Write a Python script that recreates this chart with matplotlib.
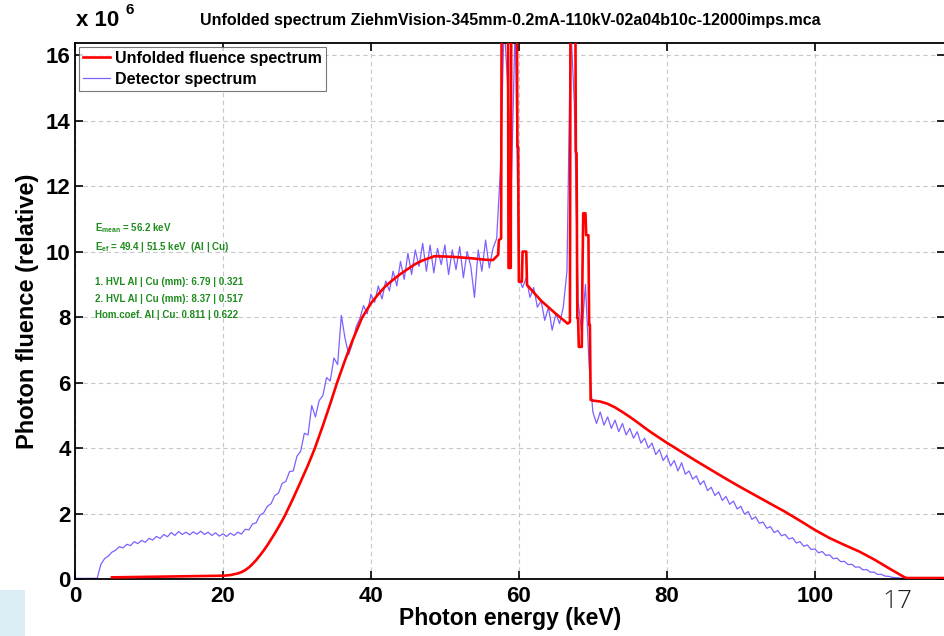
import numpy as np
import matplotlib
matplotlib.use('Agg')
import matplotlib.pyplot as plt
from matplotlib.patches import Rectangle

plt.rcParams['font.family'] = ['Liberation Sans', 'DejaVu Sans']
plt.rcParams['mathtext.fontset'] = 'custom'
plt.rcParams['mathtext.rm'] = 'Liberation Sans:bold'
plt.rcParams['mathtext.default'] = 'rm'

# detector spectrum, one value every 0.5 keV starting at 0 keV (units of 1e6)
det_values = [
    0.02, 0.02, 0.02, 0.02, 0.02, 0.02, 0.02, 0.45, 0.62, 0.70,
    0.82, 0.88, 0.99, 0.95, 1.06, 1.02, 1.14, 1.08, 1.18, 1.12,
    1.24, 1.19, 1.30, 1.24, 1.36, 1.29, 1.42, 1.33, 1.45, 1.36,
    1.43, 1.35, 1.44, 1.37, 1.46, 1.36, 1.43, 1.33, 1.41, 1.31,
    1.38, 1.30, 1.40, 1.33, 1.43, 1.37, 1.52, 1.50, 1.68, 1.72,
    1.95, 2.02, 2.22, 2.30, 2.55, 2.62, 2.92, 2.98, 3.28, 3.30,
    3.75, 3.90, 4.45, 4.40, 5.30, 4.95, 5.45, 5.60, 6.15, 6.05,
    6.75, 6.55, 8.05, 7.35, 6.85, 7.20, 7.70, 7.95, 8.35, 8.10,
    8.70, 8.45, 8.95, 8.55, 9.10, 8.80, 9.40, 8.95, 9.70, 9.15,
    9.95, 9.30, 10.05, 9.55, 10.25, 9.40, 10.20, 9.35, 10.10, 9.60,
    10.20, 9.30, 10.05, 9.45, 10.15, 9.20, 10.00, 9.55, 8.60, 10.05,
    9.40, 10.35, 9.50, 10.10, 10.40, 12.50, 17.0, 15.0, 12.2, 17.0,
    9.20, 8.90, 9.20, 8.60, 8.90, 8.30, 8.50, 7.90, 8.30, 7.60,
    8.10, 7.80, 8.30, 9.40, 17.0, 14.5, 8.50, 7.50, 9.00, 6.50,
    5.10, 4.75, 5.10, 4.70, 4.95, 4.60, 4.85, 4.50, 4.75, 4.40,
    4.60, 4.30, 4.50, 4.15, 4.30, 4.00, 4.15, 3.80, 3.95, 3.62,
    3.78, 3.45, 3.62, 3.30, 3.55, 3.20, 3.30, 3.05, 3.15, 2.88,
    3.00, 2.70, 2.80, 2.55, 2.66, 2.40, 2.52, 2.28, 2.38, 2.14,
    2.22, 1.98, 2.06, 1.82, 1.90, 1.70, 1.74, 1.55, 1.60, 1.42,
    1.48, 1.32, 1.36, 1.22, 1.26, 1.10, 1.14, 1.00, 1.04, 0.90,
    0.92, 0.80, 0.84, 0.72, 0.74, 0.62, 0.64, 0.53, 0.54, 0.44,
    0.45, 0.36, 0.37, 0.28, 0.29, 0.21, 0.21, 0.14, 0.14, 0.09,
    0.08, 0.05, 0.04, 0.03, 0.02, 0.02, 0.02, 0.02, 0.02, 0.02,
    0.02, 0.02, 0.02, 0.02, 0.02,
]
det_energy = np.arange(len(det_values)) * 0.5

# unfolded fluence spectrum (units of 1e6)
unf_energy = [5.0, 20.0, 21.0, 22.0, 22.5, 23.0, 23.6, 24.0, 24.5, 25.0,
              25.5, 26.0, 26.5, 27.0, 27.5, 28.0, 28.4, 29.5, 30.5, 31.5,
              32.4, 33.5, 34.5, 35.4, 36.5, 37.5, 38.8, 40.0, 41.0, 42.0,
              43.0, 43.9, 45.0, 46.0, 47.0, 48.6, 51.0, 53.4, 55.5, 56.5,
              57.2, 57.3, 57.6, 57.7, 58.5, 58.6, 58.9, 59.0, 59.7, 59.8,
              59.9, 60.0, 60.4, 60.5, 61.0, 61.1, 63.0, 65.0, 66.6, 66.9,
              67.0, 67.6, 67.7, 67.8, 67.9, 68.0, 68.1, 68.5, 68.6, 68.7,
              69.0, 69.1, 69.4, 69.5, 69.6, 69.7, 70.0, 71.0, 72.0, 73.0,
              74.0, 75.0, 76.0, 77.0, 78.0, 79.0, 80.0, 82.0, 84.0, 86.0,
              88.0, 90.0, 92.0, 94.0, 96.0, 98.0, 100.0, 102.0, 104.0, 106.0,
              108.0, 110.0, 112.0, 112.4, 117.6]
unf_values = [0.05, 0.10, 0.12, 0.17, 0.21, 0.27, 0.37, 0.46, 0.58, 0.72,
              0.87, 1.03, 1.21, 1.39, 1.58, 1.78, 1.95, 2.47, 2.97, 3.48,
              3.98, 4.68, 5.35, 5.98, 6.68, 7.28, 7.98, 8.42, 8.70, 8.95,
              9.14, 9.30, 9.47, 9.62, 9.73, 9.86, 9.84, 9.80, 9.75, 9.74,
              9.90, 10.35, 10.40, 20.0, 20.0, 9.50, 9.50, 20.0, 20.0, 13.2,
              13.2, 9.08, 9.08, 10.0, 10.0, 8.98, 8.50, 8.10, 7.80, 7.85,
              20.0, 20.0, 13.05, 13.0, 7.97, 7.97, 7.09, 7.09, 9.43, 11.17,
              11.17, 10.5, 10.5, 7.76, 7.76, 5.47, 5.45, 5.42, 5.35, 5.24,
              5.10, 4.95, 4.79, 4.62, 4.46, 4.31, 4.16, 3.88, 3.60, 3.33,
              3.06, 2.80, 2.55, 2.30, 2.05, 1.78, 1.50, 1.25, 1.04, 0.84,
              0.60, 0.33, 0.07, 0.03, 0.03]

info_lines = [
    r'E$_{\mathrm{mean}}$ = 56.2 keV',
    r'E$_{\mathrm{ef}}$ = 49.4 | 51.5 keV  (Al | Cu)',
    '1. HVL Al | Cu (mm): 6.79 | 0.321',
    '2. HVL Al | Cu (mm): 8.37 | 0.517',
    'Hom.coef. Al | Cu: 0.811 | 0.622',
]

fig = plt.figure(figsize=(9.45, 6.36), dpi=100)
ax = fig.add_axes([75 / 945, 1 - 579 / 636, 1 - 75 / 945, (579 - 43) / 636])

ax.plot(det_energy, np.array(det_values) * 1e6, color='#7f5fff', lw=0.9,
        label='Detector spectrum', zorder=2)
ax.plot(unf_energy, np.array(unf_values) * 1e6, color='red', lw=1.9,
        label='Unfolded fluence spectrum', zorder=3)

ax.set_xlim(0, 117.6)
ax.set_ylim(0, 16.37e6)
ax.set_xticks([0, 20, 40, 60, 80, 100])
ax.set_yticks(np.arange(0, 17, 2) * 1e6)
ax.set_yticklabels([str(v) for v in range(0, 17, 2)])
ax.tick_params(direction='in', length=6, width=1.2, top=True, right=True,
               labelsize=16, pad=3)
ax.tick_params(axis='x', pad=5)
for lab in ax.get_xticklabels() + ax.get_yticklabels():
    lab.set_fontweight('bold')
for sp in ax.spines.values():
    sp.set_linewidth(1.3)
ax.grid(True, ls=(0, (4, 3)), color='#c8c8c8', lw=0.8)
ax.set_axisbelow(True)

ax.set_xlabel('Photon energy (keV)', fontsize=16.5, fontweight='bold', labelpad=0)
ax.set_ylabel('Photon fluence (relative)', fontsize=17, fontweight='bold', labelpad=5)
ax.set_title('Unfolded spectrum ZiehmVision-345mm-0.2mA-110kV-02a04b10c-12000imps.mca',
             fontsize=11.5, fontweight='bold', pad=13)

h, l = ax.get_legend_handles_labels()
leg = ax.legend(h[::-1], l[::-1], loc='upper left',
                prop={'weight': 'bold', 'size': 11.5}, frameon=True, fancybox=False,
                handlelength=1.7, handletextpad=0.3, borderpad=0.25,
                labelspacing=0.35, borderaxespad=0.25)
leg.get_frame().set_edgecolor('#555555')
leg.get_frame().set_linewidth(0.8)

ys = [228, 247, 282, 299, 315]
for txt, yp in zip(info_lines, ys):
    fig.text(95 / 945, 1 - yp / 636, txt, color='#1e8c1e', fontsize=7,
             fontweight='bold', va='center', ha='left')

fig.text(76 / 945, 1 - 21 / 636, 'x 10', fontsize=16, fontweight='bold',
         va='center', ha='left')
fig.text(126 / 945, 1 - 10 / 636, '6', fontsize=11, fontweight='bold',
         va='center', ha='left')

fig.patches.append(Rectangle((0, 0), 25 / 945, 46 / 636, transform=fig.transFigure,
                             facecolor='#dcedf5', edgecolor='none', zorder=0))
fig.text(897 / 945, 1 - 601 / 636, '17', fontsize=19, family='Open Sans',
         fontweight='light', color='#222222', va='center', ha='center')

fig.savefig('out.png', dpi=100)
